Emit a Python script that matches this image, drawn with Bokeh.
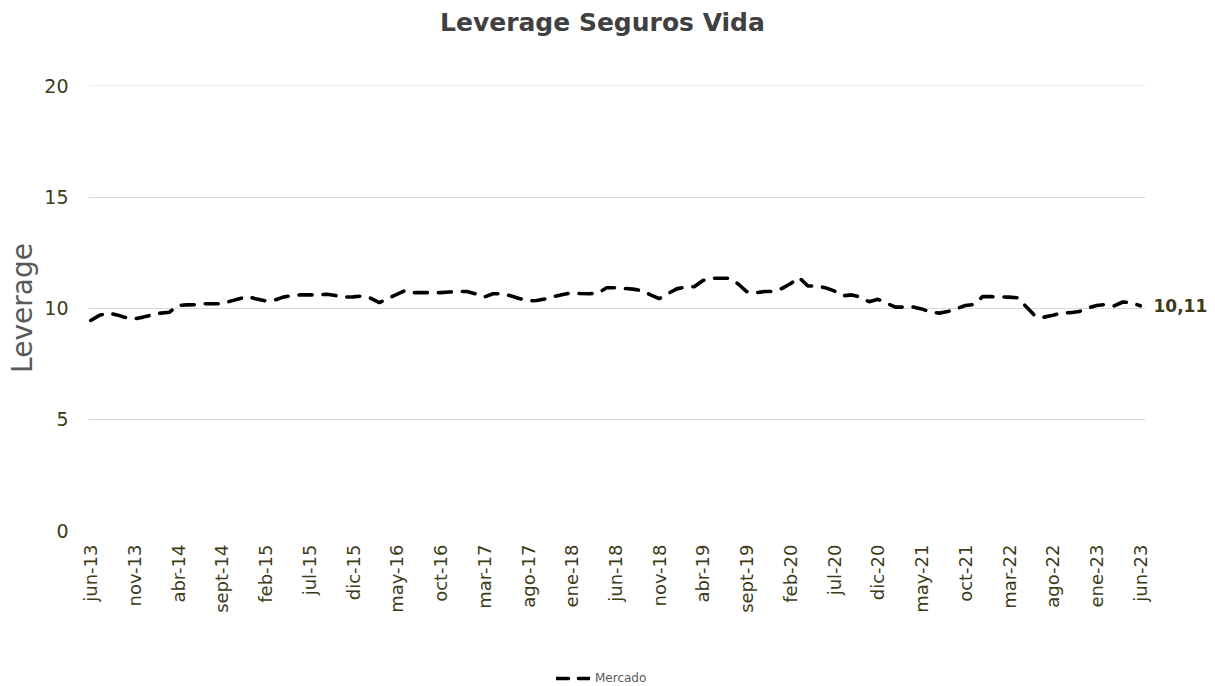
import math
from bokeh.plotting import figure
from bokeh.layouts import column
from bokeh.models import (FixedTicker, Legend, LegendItem, Range1d, ColumnDataSource,
                          LinearAxis, Div)
from bokeh.embed import file_html
from bokeh.resources import INLINE

tick_labels = ["jun-13", "nov-13", "abr-14", "sept-14", "feb-15", "jul-15", "dic-15",
               "may-16", "oct-16", "mar-17", "ago-17", "ene-18", "jun-18", "nov-18",
               "abr-19", "sept-19", "feb-20", "jul-20", "dic-20", "may-21", "oct-21",
               "mar-22", "ago-22", "ene-23", "jun-23"]

mercado = [9.45, 9.68, 9.78, 9.70, 9.58, 9.52, 9.60, 9.70, 9.78, 9.82,
           10.13, 10.15, 10.16, 10.20, 10.20, 10.20, 10.32, 10.43, 10.52, 10.41,
           10.33, 10.36, 10.50, 10.56, 10.60, 10.60, 10.60, 10.63, 10.57, 10.50,
           10.51, 10.55, 10.45, 10.25, 10.45, 10.62, 10.80, 10.70, 10.70, 10.70,
           10.70, 10.73, 10.75, 10.75, 10.65, 10.50, 10.65, 10.65, 10.56, 10.44,
           10.33, 10.35, 10.42, 10.53, 10.62, 10.69, 10.66, 10.65, 10.68, 10.92,
           10.92, 10.89, 10.86, 10.79, 10.60, 10.43, 10.66, 10.87, 10.95, 10.97,
           11.25, 11.35, 11.35, 11.35, 11.10, 10.75, 10.69, 10.75, 10.75, 10.88,
           11.10, 11.38, 11.00, 11.00, 10.92, 10.78, 10.56, 10.60, 10.50, 10.29,
           10.40, 10.23, 10.05, 10.05, 10.06, 9.97, 9.83, 9.78, 9.85, 9.98,
           10.12, 10.17, 10.53, 10.52, 10.51, 10.50, 10.47, 10.05, 9.64, 9.60,
           9.68, 9.79, 9.80, 9.85, 10.00, 10.12, 10.17, 10.10, 10.28, 10.25,
           10.11]
last_label = "10,11"
title_text = "Leverage Seguros Vida"
series_name = "Mercado"

months = list(range(len(mercado)))
tick_pos = list(range(0, len(mercado), 5))

FONT = "DejaVu Sans"
OLIVE = "#3d3b18"
W = 1215
TITLE_H = 46
LEG_H = 30
MAIN_H = 686 - TITLE_H - LEG_H

title_div = Div(
    text=(f'<div style="font-family:\'{FONT}\';font-size:25px;font-weight:bold;'
          f'color:#404040;line-height:{TITLE_H}px;padding-left:440px;white-space:nowrap;">'
          f'{title_text}</div>'),
    width=W, height=TITLE_H, margin=0)

p = figure(width=W, height=MAIN_H, output_backend="svg", toolbar_location=None,
           x_range=Range1d(-0.25, 120.6), y_range=Range1d(0, 20.02),
           min_border_left=88, min_border_right=70, min_border_top=85 - TITLE_H,
           min_border_bottom=MAIN_H - (530 - TITLE_H))
p.outline_line_color = None
p.background_fill_color = "white"
p.border_fill_color = "white"

src = ColumnDataSource(dict(x=months, y=mercado))
p.line("x", "y", source=src, line_color="black", line_width=3.6,
       line_dash="13 11", line_cap="round")

# axes
p.xaxis.ticker = FixedTicker(ticks=tick_pos)
p.xaxis.major_label_overrides = {pos: lab for pos, lab in zip(tick_pos, tick_labels)}
p.xaxis.major_label_orientation = math.pi / 2
p.xaxis.major_label_text_font = FONT
p.xaxis.major_label_text_font_size = "18px"
p.xaxis.major_label_text_color = OLIVE
p.xaxis.major_label_standoff = 14

p.yaxis.ticker = FixedTicker(ticks=[0, 5, 10, 15, 20])
p.yaxis.major_label_text_font = FONT
p.yaxis.major_label_text_font_size = "19px"
p.yaxis.major_label_text_color = OLIVE
p.yaxis.major_label_standoff = 20
p.yaxis.axis_label = "Leverage"
p.yaxis.axis_label_text_font = FONT
p.yaxis.axis_label_text_font_size = "28px"
p.yaxis.axis_label_text_font_style = "normal"
p.yaxis.axis_label_text_color = "#595959"
p.yaxis.axis_label_standoff = 2

# end-value label as a right axis with a single tick
end_axis = LinearAxis(ticker=FixedTicker(ticks=[mercado[-1]]),
                      major_label_overrides={mercado[-1]: last_label})
end_axis.major_label_text_font = FONT
end_axis.major_label_text_font_size = "17px"
end_axis.major_label_text_font_style = "bold"
end_axis.major_label_text_color = OLIVE
end_axis.major_label_standoff = 8
p.add_layout(end_axis, "right")

for ax in [p.xaxis[0], p.yaxis[0], end_axis]:
    ax.axis_line_color = None
    ax.major_tick_line_color = None
    ax.minor_tick_line_color = None
    ax.major_tick_out = 0
    ax.major_tick_in = 0
    ax.minor_tick_out = 0
    ax.minor_tick_in = 0

p.xgrid.grid_line_color = None
p.ygrid.ticker = FixedTicker(ticks=[5, 10, 15, 20])
p.ygrid.grid_line_color = "#d9d9d9"
p.ygrid.grid_line_width = 1

# legend strip (its line renderer sits outside the visible range)
lg = figure(width=W, height=LEG_H, output_backend="svg", toolbar_location=None,
            x_range=Range1d(1000, 1001), y_range=Range1d(0, 1),
            x_axis_type=None, y_axis_type=None,
            min_border_left=0, min_border_right=0, min_border_top=0, min_border_bottom=0)
lg.outline_line_color = None
lg.xgrid.grid_line_color = None
lg.ygrid.grid_line_color = None
lr = lg.line("x", "y", source=src, line_color="black", line_width=3.6,
             line_dash="12 10", line_cap="round")
legend = Legend(items=[LegendItem(label=series_name, renderers=[lr])],
                location=(468, 1), orientation="horizontal",
                label_text_font=FONT, label_text_font_size="12px",
                label_text_color="#595959", glyph_width=34, glyph_height=14,
                padding=2, margin=0, spacing=0, label_standoff=5,
                background_fill_alpha=0, border_line_color=None)
lg.add_layout(legend, "center")

layout = column(title_div, p, lg, spacing=0)
open("out.html", "w").write(file_html(layout, INLINE))
